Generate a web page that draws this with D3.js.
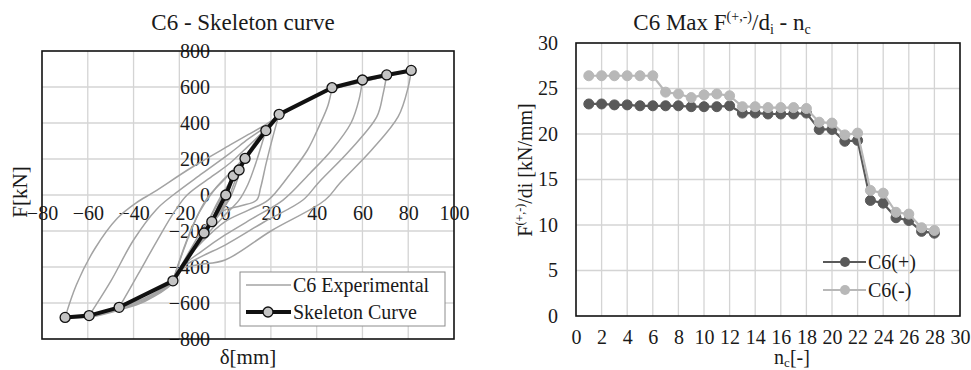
<!DOCTYPE html>
<html>
<head>
<meta charset="utf-8">
<script src="https://cdn.jsdelivr.net/npm/d3@7"></script>
<style>
  body { margin: 0; background: #fff; }
  svg { display: block; }
  text { font-family: 'Liberation Serif', 'Times New Roman', serif; fill: #1a1a1a; }
</style>
</head>
<body>
<svg id="chart" width="971" height="370"></svg>
<script>
// ---------- Left panel: skeleton curve of C6 ----------
const skeletonD = [-69.9, -59.4, -46.3, -22.8, -9.2, -5.8, 0.3, 3.6, 6.1, 8.7, 17.8, 23.6, 46.7, 60.0, 70.6, 81.3];
const skeletonF = [-680, -670, -624, -477, -211, -148, 0, 107, 139, 203, 358, 448, 596, 639, 667, 692];

// Experimental hysteresis branches, [displacement mm, force kN]
const unloadingBranches = [
  [[3.6, 107], [1.5, 25], [0, -40], [-3, -100], [-5.8, -148]],
  [[6.1, 139], [3.5, 50], [0, -60], [-4.5, -140], [-9.2, -211]],
  [[8.7, 203], [5.5, 90], [2, -20], [-3, -110], [-9.2, -211]],
  [[17.8, 358], [14, 200], [10, 60], [6, -30], [0, -110], [-10, -250], [-17, -370], [-22.8, -477]],
  [[23.6, 448], [21, 330], [18, 180], [15.5, 40], [13.8, -28], [7, -60], [0, -83], [-8, -160], [-15, -300], [-19, -390], [-22.8, -477]],
  [[46.7, 596], [45, 500], [41, 380], [36, 250], [28, 110], [18.8, -28], [10, -85], [0, -148], [-10, -260], [-19, -392], [-23, -480], [-35, -572], [-46.3, -624]],
  [[60.0, 639], [58.5, 530], [55, 400], [46.6, 250], [37, 120], [25.3, -28], [12, -130], [0, -222], [-10, -310], [-19, -400], [-23, -484], [-35, -578], [-46, -630], [-52, -652], [-59.4, -670]],
  [[70.6, 667], [69, 560], [66.3, 435], [54.6, 250], [40.7, 67], [34, -28], [17, -150], [0, -278], [-10, -340], [-19, -405], [-23, -488], [-35, -584], [-46, -634], [-59, -674], [-69.9, -680]],
  [[81.3, 692], [80, 600], [75.6, 435], [64, 250], [50.2, 67], [43.7, -28], [20, -200], [0, -361], [-12, -388], [-19, -412], [-23, -492], [-35, -590], [-46, -638], [-59, -678], [-69.9, -682]]
];
const reloadingBranches = [
  [[0, 0], [1.5, 50], [3.6, 107]],
  [[-5.8, -148], [-3, -60], [0, 10], [3, 80], [6.1, 139]],
  [[-9.2, -211], [-6, -110], [-2, -10], [2, 70], [5, 140], [8.7, 203]],
  [[-9.2, -211], [-5, -90], [0, 20], [5, 120], [10, 220], [14, 300], [17.8, 358]],
  [[-22.8, -477], [-18, -300], [-13, -140], [-8, -20], [0, 90], [8, 200], [15, 330], [19, 385], [23.6, 448]],
  [[-22.8, -477], [-17, -260], [-11, -90], [-4, 40], [5, 160], [12, 270], [17, 350], [22, 425], [30, 490], [40, 555], [46.7, 596]],
  [[-46.3, -624], [-38, -440], [-30, -260], [-22, -90], [-16.6, 0], [-5, 110], [2.2, 178], [10, 270], [17, 355], [24, 435], [35, 522], [46, 584], [60, 639]],
  [[-59.4, -670], [-50, -480], [-40, -250], [-30, -80], [-22.7, 0], [-10, 120], [2.2, 233], [10, 310], [17, 372], [24, 440], [35, 526], [46, 586], [60, 632], [70.6, 667]],
  [[-69.9, -680], [-65, -500], [-57, -300], [-47, -128], [-39, -45], [-31, 17], [-15, 150], [2.2, 278], [10, 335], [17, 385], [24, 445], [35, 524], [46, 583], [60, 628], [70.6, 660], [81.3, 692]]
];

const xTicksL = [-80, -60, -40, -20, 0, 20, 40, 60, 80, 100];
const yTicksL = [-800, -600, -400, -200, 0, 200, 400, 600, 800];

// ---------- Right panel: stiffness per cycle ----------
const cycles = [1, 2, 3, 4, 5, 6, 7, 8, 9, 10, 11, 12, 13, 14, 15, 16, 17, 18, 19, 20, 21, 22, 23, 24, 25, 26, 27, 28];
const kPlus  = [23.3, 23.3, 23.2, 23.2, 23.1, 23.1, 23.1, 23.1, 23.0, 23.0, 23.0, 23.1, 22.3, 22.3, 22.2, 22.2, 22.2, 22.3, 20.5, 20.5, 19.2, 19.3, 12.7, 12.4, 10.8, 10.5, 9.3, 9.1];
const kMinus = [26.4, 26.4, 26.4, 26.4, 26.4, 26.4, 24.6, 24.4, 24.0, 24.3, 24.4, 24.2, 23.0, 23.0, 22.9, 22.9, 22.9, 22.8, 21.3, 21.2, 19.9, 20.1, 13.8, 13.5, 11.4, 11.2, 9.7, 9.4];
const xTicksR = d3.range(0, 31, 2);
const yTicksR = [0, 5, 10, 15, 20, 25, 30];

const svg = d3.select('#chart');
svg.append('rect').attr('width', 971).attr('height', 370).attr('fill', '#fff');

const GRID = '#d4d4d4';
const FONT = 20;
const SERIF = "'Liberation Serif', 'Times New Roman', serif";

function styleAxis(a) {
  a.attr('font-family', null).attr('font-size', null);
  a.select('.domain').remove();
  a.selectAll('text').attr('font-size', FONT).attr('fill', '#1a1a1a').style('font-family', SERIF);
}

// ================= Left panel =================
const xL = d3.scaleLinear().domain([-80, 100]).range([42, 454]);
const yL = d3.scaleLinear().domain([-800, 800]).range([339, 51]);
const left = svg.append('g');

left.append('g').selectAll('line').data(xTicksL.slice(1, -1)).join('line')
  .attr('x1', d => xL(d)).attr('x2', d => xL(d)).attr('y1', yL(800)).attr('y2', yL(-800))
  .attr('stroke', GRID).attr('stroke-width', 1.3);
left.append('g').selectAll('line').data(yTicksL.slice(1, -1)).join('line')
  .attr('y1', d => yL(d)).attr('y2', d => yL(d)).attr('x1', xL(-80)).attr('x2', xL(100))
  .attr('stroke', GRID).attr('stroke-width', 1.3);

// axes crossing at the origin
const axL = left.append('g').attr('transform', `translate(0,${yL(0)})`)
  .call(d3.axisBottom(xL).tickValues(xTicksL).tickSize(0).tickPadding(11));
const ayL = left.append('g').attr('transform', `translate(${xL(0)},0)`)
  .call(d3.axisLeft(yL).tickValues(yTicksL).tickSize(0).tickPadding(15));
styleAxis(axL);
styleAxis(ayL);

const lineL = d3.line().x(d => xL(d[0])).y(d => yL(d[1])).curve(d3.curveCatmullRom.alpha(0.5));
const expG = left.append('g').attr('fill', 'none').attr('stroke', '#a3a3a3').attr('stroke-width', 1.5);
unloadingBranches.concat(reloadingBranches).forEach(b => expG.append('path').attr('d', lineL(b)));

const skeleton = skeletonD.map((d, i) => [d, skeletonF[i]]);
left.append('path').attr('d', d3.line().x(d => xL(d[0])).y(d => yL(d[1]))(skeleton))
  .attr('fill', 'none').attr('stroke', '#111').attr('stroke-width', 4).attr('stroke-linejoin', 'round');
left.append('g').selectAll('circle').data(skeleton).join('circle')
  .attr('cx', d => xL(d[0])).attr('cy', d => yL(d[1])).attr('r', 5)
  .attr('fill', '#c4c4c4').attr('stroke', '#111').attr('stroke-width', 1.3);

left.append('rect').attr('x', xL(-80)).attr('y', yL(800))
  .attr('width', xL(100) - xL(-80)).attr('height', yL(-800) - yL(800))
  .attr('fill', 'none').attr('stroke', '#111').attr('stroke-width', 1.6);

left.append('text').attr('x', 243).attr('y', 22).attr('text-anchor', 'middle')
  .attr('dominant-baseline', 'central').attr('font-size', 23).text('C6 - Skeleton curve');
left.append('text').attr('x', 248).attr('y', 357).attr('text-anchor', 'middle')
  .attr('dominant-baseline', 'central').attr('font-size', 21).text('δ[mm]');
left.append('text').attr('transform', 'translate(20,192) rotate(-90)').attr('text-anchor', 'middle')
  .attr('dominant-baseline', 'central').attr('font-size', 21).text('F[kN]');

// legend
const legL = left.append('g');
legL.append('rect').attr('x', 240).attr('y', 272).attr('width', 205).attr('height', 54)
  .attr('fill', '#fff').attr('stroke', '#8c8c8c').attr('stroke-width', 1);
legL.append('line').attr('x1', 246).attr('x2', 291).attr('y1', 285).attr('y2', 285)
  .attr('stroke', '#a3a3a3').attr('stroke-width', 1.5);
legL.append('text').attr('x', 293).attr('y', 285).attr('dominant-baseline', 'central')
  .attr('font-size', FONT).text('C6 Experimental');
legL.append('line').attr('x1', 246).attr('x2', 291).attr('y1', 312).attr('y2', 312)
  .attr('stroke', '#111').attr('stroke-width', 4);
legL.append('circle').attr('cx', 268).attr('cy', 312).attr('r', 5)
  .attr('fill', '#c4c4c4').attr('stroke', '#111').attr('stroke-width', 1.3);
legL.append('text').attr('x', 293).attr('y', 312).attr('dominant-baseline', 'central')
  .attr('font-size', FONT).text('Skeleton Curve');

// ================= Right panel =================
const xR = d3.scaleLinear().domain([0, 30]).range([576, 960]);
const yR = d3.scaleLinear().domain([0, 30]).range([316, 43]);
const right = svg.append('g');

right.append('g').selectAll('line').data(xTicksR.slice(1, -1)).join('line')
  .attr('x1', d => xR(d)).attr('x2', d => xR(d)).attr('y1', yR(30)).attr('y2', yR(0))
  .attr('stroke', GRID).attr('stroke-width', 1.3);
right.append('g').selectAll('line').data(yTicksR.slice(1, -1)).join('line')
  .attr('y1', d => yR(d)).attr('y2', d => yR(d)).attr('x1', xR(0)).attr('x2', xR(30))
  .attr('stroke', GRID).attr('stroke-width', 1.3);

const axR = right.append('g').attr('transform', `translate(0,${yR(0)})`)
  .call(d3.axisBottom(xR).tickValues(xTicksR).tickSize(0).tickPadding(14));
const ayR = right.append('g').attr('transform', `translate(${xR(0)},0)`)
  .call(d3.axisLeft(yR).tickValues(yTicksR).tickSize(0).tickPadding(18));
styleAxis(axR);
styleAxis(ayR);

const series = [
  { name: 'C6(+)', values: kPlus, color: '#595959' },
  { name: 'C6(-)', values: kMinus, color: '#b8b8b8' }
];
const lineR = d3.line().x(d => xR(d[0])).y(d => yR(d[1]));
series.forEach(s => {
  const pts = cycles.map((c, i) => [c, s.values[i]]);
  right.append('path').attr('d', lineR(pts)).attr('fill', 'none')
    .attr('stroke', s.color).attr('stroke-width', 2.2);
  right.append('g').selectAll('circle').data(pts).join('circle')
    .attr('cx', d => xR(d[0])).attr('cy', d => yR(d[1])).attr('r', 5)
    .attr('fill', s.color).attr('stroke', s.color);
});

right.append('rect').attr('x', xR(0)).attr('y', yR(30))
  .attr('width', xR(30) - xR(0)).attr('height', yR(0) - yR(30))
  .attr('fill', 'none').attr('stroke', '#111').attr('stroke-width', 1.6);

// title with super/subscripts
const tR = right.append('text').attr('x', 722).attr('y', 30).attr('text-anchor', 'middle').attr('font-size', 23);
tR.append('tspan').text('C6 Max F');
tR.append('tspan').attr('font-size', 14).attr('dy', -9).text('(+,-)');
tR.append('tspan').attr('dy', 9).text('/d');
tR.append('tspan').attr('font-size', 14).attr('dy', 4).text('i');
tR.append('tspan').attr('dy', -4).text(' - n');
tR.append('tspan').attr('font-size', 14).attr('dy', 4).text('c');

const xLab = right.append('text').attr('x', 792).attr('y', 364).attr('text-anchor', 'middle').attr('font-size', 20);
xLab.append('tspan').text('n');
xLab.append('tspan').attr('font-size', 13).attr('dy', 3).text('c');
xLab.append('tspan').attr('dy', -3).text('[-]');

const yLab = right.append('text').attr('transform', 'translate(532,170) rotate(-90)')
  .attr('text-anchor', 'middle').attr('font-size', 20);
yLab.append('tspan').text('F');
yLab.append('tspan').attr('font-size', 12).attr('dy', -8).text('(+,-)');
yLab.append('tspan').attr('dy', 8).text('/di [kN/mm]');

// legend
series.forEach((s, i) => {
  const y = 262 + i * 28;
  right.append('line').attr('x1', 823).attr('x2', 866).attr('y1', y).attr('y2', y)
    .attr('stroke', s.color).attr('stroke-width', 2.2);
  right.append('circle').attr('cx', 845).attr('cy', y).attr('r', 5).attr('fill', s.color);
  right.append('text').attr('x', 868).attr('y', y).attr('dominant-baseline', 'central')
    .attr('font-size', FONT).text(s.name);
});
</script>
</body>
</html>
